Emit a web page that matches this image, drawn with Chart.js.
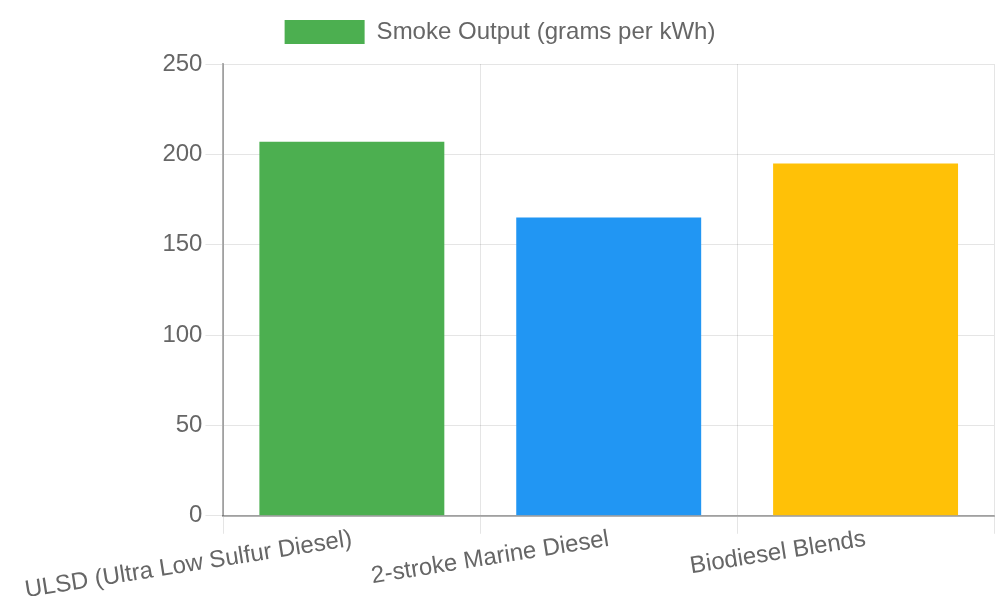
<!DOCTYPE html>
<html>
<head>
<meta charset="utf-8">
<script src="https://cdn.jsdelivr.net/npm/chart.js@4/dist/chart.umd.min.js"></script>
<style>
html,body{margin:0;padding:0;background:#fff;}
#wrap{width:1000px;height:600px;}
</style>
</head>
<body>
<div id="wrap"><canvas id="c"></canvas></div>
<script>
const categories = ["ULSD (Ultra Low Sulfur Diesel)", "2-stroke Marine Diesel", "Biodiesel Blends"];
const smokeValues = [207, 165, 195];
const barColors = ["#4CAF50", "#2196F3", "#FFC107"];
const seriesLabel = "Smoke Output (grams per kWh)";
const yTicks = { min: 0, max: 250, step: 50 };

Chart.defaults.font.family = "'Liberation Sans', Arial, sans-serif";
Chart.defaults.font.size = 24;
Chart.defaults.color = "#666";

const legendSpacer = {
  id: 'legendSpacer',
  beforeInit(chart) {
    if (!chart.legend) return;
    const origFit = chart.legend.fit;
    chart.legend.fit = function () {
      origFit.call(this);
      this.height += 10;
    };
  }
};

new Chart(document.getElementById('c'), {
  type: 'bar',
  data: {
    labels: categories,
    datasets: [{
      label: seriesLabel,
      data: smokeValues,
      backgroundColor: barColors,
      borderWidth: 0
    }]
  },
  plugins: [legendSpacer],
  options: {
    responsive: true,
    maintainAspectRatio: false,
    animation: false,
    layout: { padding: { top: 0, left: 6, right: 6, bottom: 4 } },
    plugins: {
      legend: {
        labels: { boxWidth: 80, padding: 20, font: { size: 24 } }
      },
      tooltip: { enabled: false }
    },
    scales: {
      x: {
        grid: { color: 'rgba(0,0,0,0.1)', tickLength: 18 },
        border: { color: 'rgba(0,0,0,0.3)', width: 2 },
        ticks: { font: { size: 24 }, padding: -9, minRotation: 9, maxRotation: 9 }
      },
      y: {
        min: yTicks.min, max: yTicks.max,
        afterFit(scale) { scale.width = 199; },
        ticks: { stepSize: yTicks.step, font: { size: 24 } },
        grid: { color: 'rgba(0,0,0,0.1)', tickLength: 18 },
        border: { color: 'rgba(0,0,0,0.3)', width: 2 }
      }
    }
  }
});
</script>
</body>
</html>
